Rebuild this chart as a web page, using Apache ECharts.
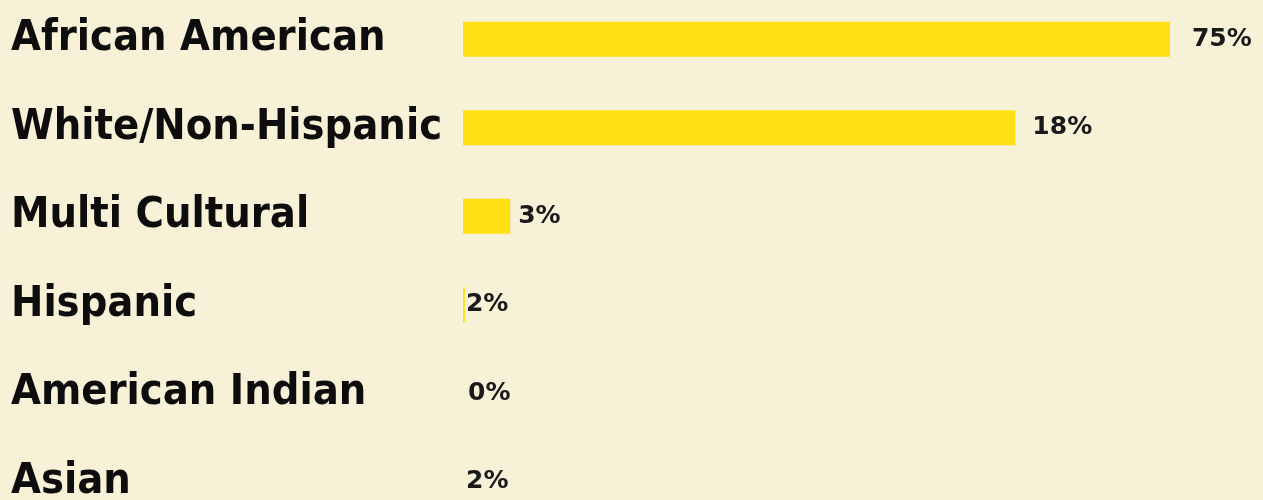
<!DOCTYPE html>
<html>
<head>
<meta charset="utf-8">
<script src="https://cdn.jsdelivr.net/npm/echarts@6/dist/echarts.min.js"></script>
<style>
html,body{margin:0;padding:0;background:#f7f1d7;overflow:hidden;}
#chart{width:1263px;height:531px;position:absolute;left:0;top:-5px;}
</style>
</head>
<body>
<div id="chart"></div>
<script>
// Categories (top to bottom)
var categories = ['African American', 'White/Non-Hispanic', 'Multi Cultural', 'Hispanic', 'American Indian', 'Asian'];
// Percentages printed next to each bar
var percents = [75, 18, 3, 2, 0, 2];
// Bar lengths as drawn in the picture (same units as the 75% bar; graphic is not to scale)
var drawnLengths = [75, 58.6, 5.0, 0.2, 0, 0];

// styling: gap between bar end and its label (px)
var labelGaps = [22, 17, 8, 1, 5, 3];

var chart = echarts.init(document.getElementById('chart'), null, {renderer: 'canvas'});

var seriesData = drawnLengths.map(function (v, i) {
  return {
    value: v,
    label: { distance: labelGaps[i] }
  };
});

chart.setOption({
  backgroundColor: '#f7f1d7',
  animation: false,
  grid: { left: 463, top: 0, right: 0, bottom: 0 },
  xAxis: {
    type: 'value', min: 0, max: 84.87,
    show: false
  },
  yAxis: {
    type: 'category',
    data: categories,
    inverse: true,
    axisLine: { show: false },
    axisTick: { show: false },
    axisLabel: {
      align: 'left',
      margin: 452,
      color: '#0d0d0d',
      fontFamily: '"DejaVu Sans Condensed", "DejaVu Sans", sans-serif',
      fontWeight: 'bold',
      fontSize: 43
    }
  },
  series: [{
    type: 'bar',
    data: seriesData,
    barWidth: 35,
    itemStyle: { color: '#ffe014' },
    label: {
      show: true,
      position: 'right',
      color: '#1a1a1a',
      fontFamily: '"DejaVu Sans", sans-serif',
      fontWeight: 'bold',
      fontSize: 25,
      formatter: function (p) { return percents[p.dataIndex] + '%'; }
    }
  }]
});
</script>
</body>
</html>
